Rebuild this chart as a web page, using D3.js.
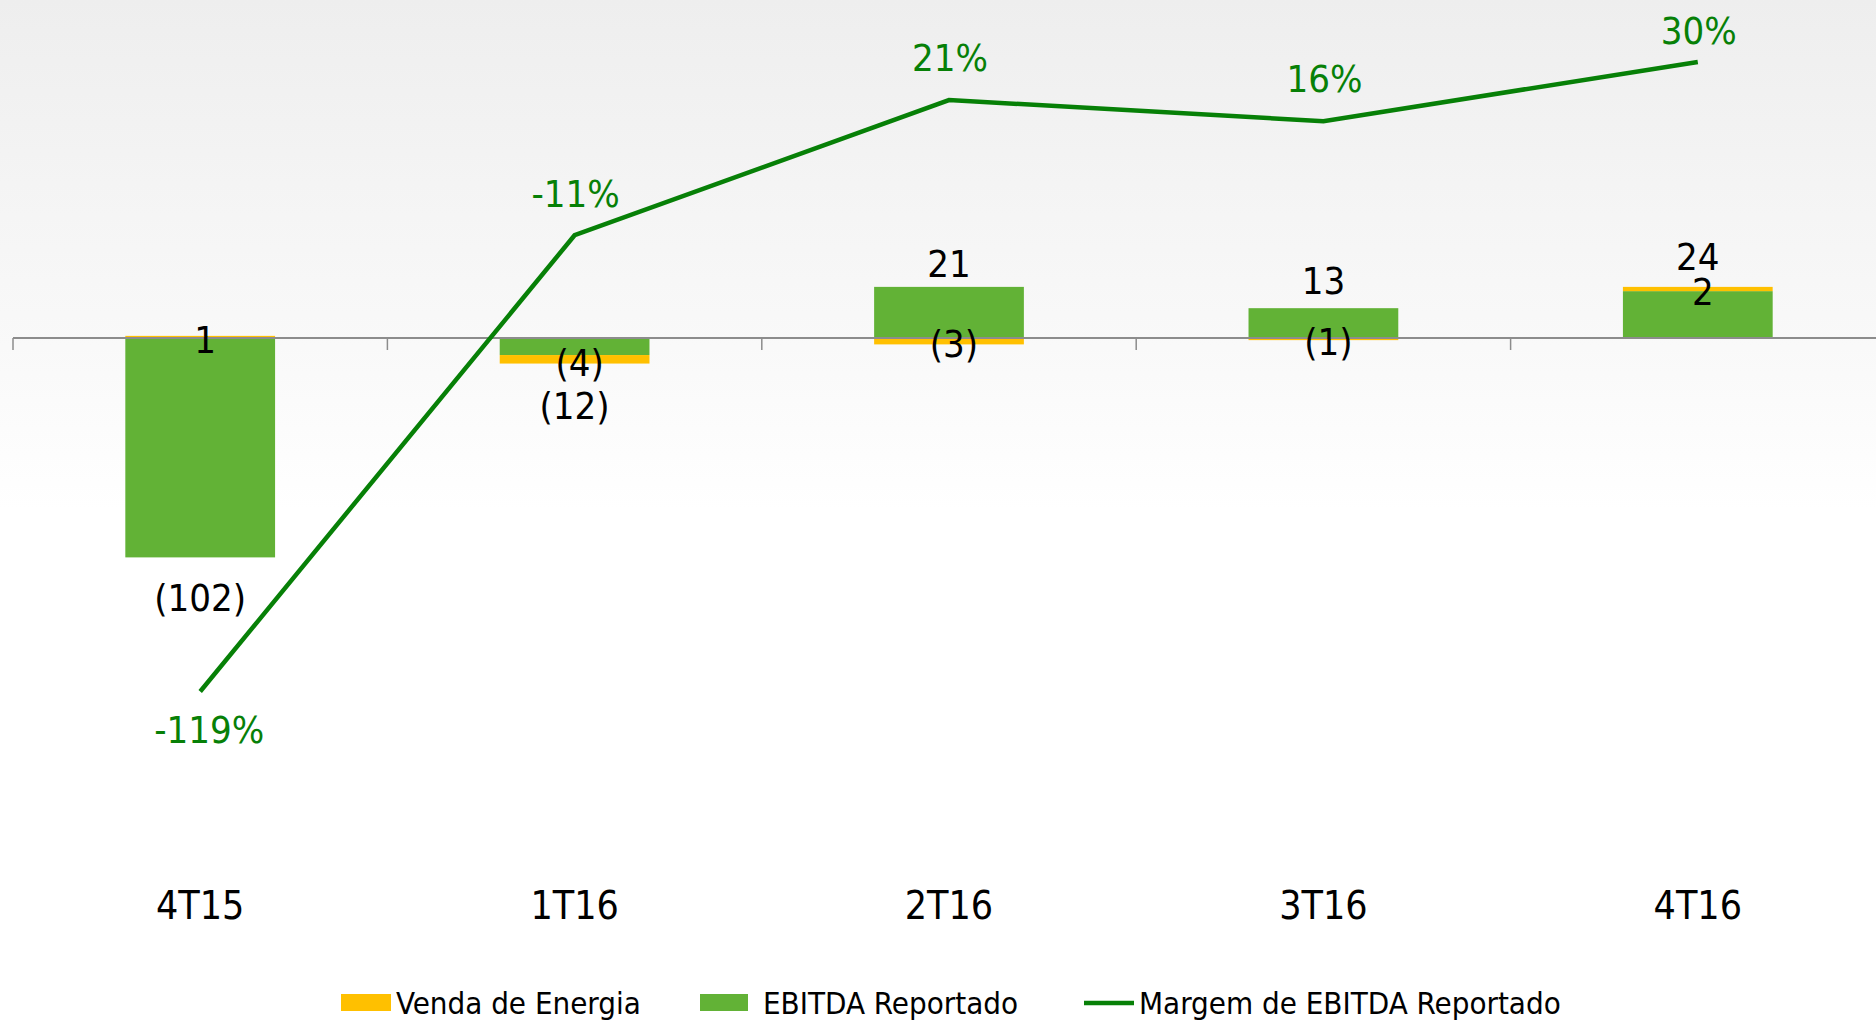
<!DOCTYPE html>
<html>
<head>
<meta charset="utf-8">
<script src="https://cdn.jsdelivr.net/npm/d3@7"></script>
<style>
  body{margin:0;padding:0;background:#fff;}
  svg{display:block;}
  text{font-family:"DejaVu Sans Condensed","DejaVu Sans",sans-serif;font-stretch:condensed;}
</style>
</head>
<body>
<script>
var W = 1876, H = 1020;

// data
var quarters = ['4T15','1T16','2T16','3T16','4T16'];
var vendaEnergia = [1,-4,-3,-1,2];
var ebitdaReportado = [-102,-12,21,13,24];
var margemEbitda = [-119,-11,21,16,30];
var legendLabels = ['Venda de Energia','EBITDA Reportado','Margem de EBITDA Reportado'];

var yellow = '#ffc000', green = '#62b236', darkGreen = '#078007';

var svg = d3.select('body').append('svg')
    .attr('width',W)
    .attr('height',H);

//background
var defs = svg.append('defs');
var grad = defs.append('linearGradient')
    .attr('id','bg')
    .attr('x1',0).attr('y1',0).attr('x2',0).attr('y2',1);
grad.append('stop').attr('offset','0%').attr('stop-color','#eeeeee');
grad.append('stop').attr('offset','18%').attr('stop-color','#f4f4f4');
grad.append('stop').attr('offset','34%').attr('stop-color','#f9f9f9');
grad.append('stop').attr('offset','50%').attr('stop-color','#ffffff');
grad.append('stop').attr('offset','100%').attr('stop-color','#ffffff');
svg.append('rect').attr('width',W).attr('height',H).attr('fill','url(#bg)');

//scales
var scaleX = d3.scaleBand()
    .domain(quarters)
    .range([13,1885])
    .paddingInner(0.6)
    .paddingOuter(0.3);

var stepX = d3.scaleBand().domain(quarters).range([13,1885]);

var scaleY = d3.scaleLinear()
    .domain([-110,40])
    .range([338 + 110*2.13, 338 - 40*2.13]);

var scaleM = d3.scaleLinear()
    .domain([-119,30])
    .range([691.5,62]);

function cx(q){ return stepX(q) + stepX.bandwidth()/2; }

//bars: green = ebitda minus venda, yellow stacked on top in its own sign
var rows = quarters.map(function(q,i){
    var g = ebitdaReportado[i] - vendaEnergia[i];
    var v = vendaEnergia[i];
    var vStart = (g*v > 0) ? g : 0;
    return {q:q, g:g, v:v, vStart:vStart, vEnd:vStart + v, total:ebitdaReportado[i]};
});

var plot = svg.append('g');

plot.selectAll('.bar-g')
    .data(rows)
    .enter()
    .append('rect')
    .attr('class','bar-g')
    .attr('x',function(d){return scaleX(d.q)})
    .attr('width',scaleX.bandwidth())
    .attr('y',function(d){return scaleY(Math.max(0,d.g))})
    .attr('height',function(d){return Math.abs(scaleY(d.g)-scaleY(0))})
    .attr('fill',green);

plot.selectAll('.bar-v')
    .data(rows)
    .enter()
    .append('rect')
    .attr('class','bar-v')
    .attr('x',function(d){return scaleX(d.q)})
    .attr('width',scaleX.bandwidth())
    .attr('y',function(d){return scaleY(Math.max(d.vStart,d.vEnd))})
    .attr('height',function(d){return Math.abs(scaleY(d.vEnd)-scaleY(d.vStart))})
    .attr('fill',yellow);

//axis
var axisX = d3.axisBottom(stepX).tickSize(0).tickFormat('');
var axisG = plot.append('g')
    .attr('transform','translate(0,' + scaleY(0) + ')')
    .call(axisX);
axisG.select('.domain').attr('stroke','#8c8c8c').attr('stroke-width',2).attr('d','M13,0H1885');
axisG.selectAll('.tick').remove();
stepX.domain().forEach(function(q){
    var x = stepX(q);
    axisG.append('line')
        .attr('x1',x).attr('x2',x)
        .attr('y1',0).attr('y2',12)
        .attr('stroke','#8c8c8c').attr('stroke-width',1.5);
});

//category labels
plot.selectAll('.cat')
    .data(quarters)
    .enter()
    .append('text')
    .attr('class','cat')
    .attr('x',function(d){return cx(d)})
    .attr('y',905)
    .attr('dy','0.35em')
    .attr('text-anchor','middle')
    .style('font-size','39px')
    .text(function(d){return d});

function fmt(v){ return v < 0 ? '(' + Math.abs(v) + ')' : '' + v; }

//venda labels
plot.selectAll('.lbl-v')
    .data(rows)
    .enter()
    .append('text')
    .attr('class','lbl-v')
    .attr('x',function(d){return cx(d.q) + 5})
    .attr('y',function(d){return scaleY((d.vStart+d.vEnd)/2) + 3})
    .attr('dy','0.35em')
    .attr('text-anchor','middle')
    .style('font-size','38px')
    .text(function(d){return fmt(d.v)});

//total labels
plot.selectAll('.lbl-t')
    .data(rows)
    .enter()
    .append('text')
    .attr('class','lbl-t')
    .attr('x',function(d){return cx(d.q)})
    .attr('y',function(d){return scaleY(d.total) + (d.total < 0 ? 42 : -30)})
    .attr('dy','0.35em')
    .attr('text-anchor','middle')
    .style('font-size','38px')
    .text(function(d){return fmt(d.total)});

//margin line
var line = d3.line()
    .x(function(d,i){return cx(quarters[i])})
    .y(function(d){return scaleM(d)});

plot.append('path')
    .datum(margemEbitda)
    .attr('d',line)
    .attr('fill','none')
    .attr('stroke',darkGreen)
    .attr('stroke-width',4.5);

plot.selectAll('.lbl-m')
    .data(margemEbitda)
    .enter()
    .append('text')
    .attr('class','lbl-m')
    .attr('x',function(d,i){return cx(quarters[i]) + (d < -50 ? 9 : 1)})
    .attr('y',function(d){return d < -50 ? scaleM(d) + 38 : Math.max(31, scaleM(d) - 42)})
    .attr('dy','0.35em')
    .attr('text-anchor','middle')
    .attr('fill',darkGreen)
    .style('font-size','38px')
    .text(function(d){return d + '%'});

//legend
var legend = svg.append('g').attr('class','legend');
var legX = [341,700,1084];
var legTextX = [396,763,1139];
legendLabels.forEach(function(l,i){
    if(i < 2){
        legend.append('rect')
            .attr('x',legX[i]).attr('y',994)
            .attr('width',i==0 ? 50 : 48).attr('height',17)
            .attr('fill',i==0 ? yellow : green);
    } else {
        legend.append('line')
            .attr('x1',legX[i]).attr('x2',legX[i]+50)
            .attr('y1',1003).attr('y2',1003)
            .attr('stroke',darkGreen).attr('stroke-width',4.5);
    }
    legend.append('text')
        .attr('x',legTextX[i])
        .attr('y',1003)
        .attr('dy','0.35em')
        .style('font-size','31px')
        .text(l);
});
</script>
</body>
</html>
